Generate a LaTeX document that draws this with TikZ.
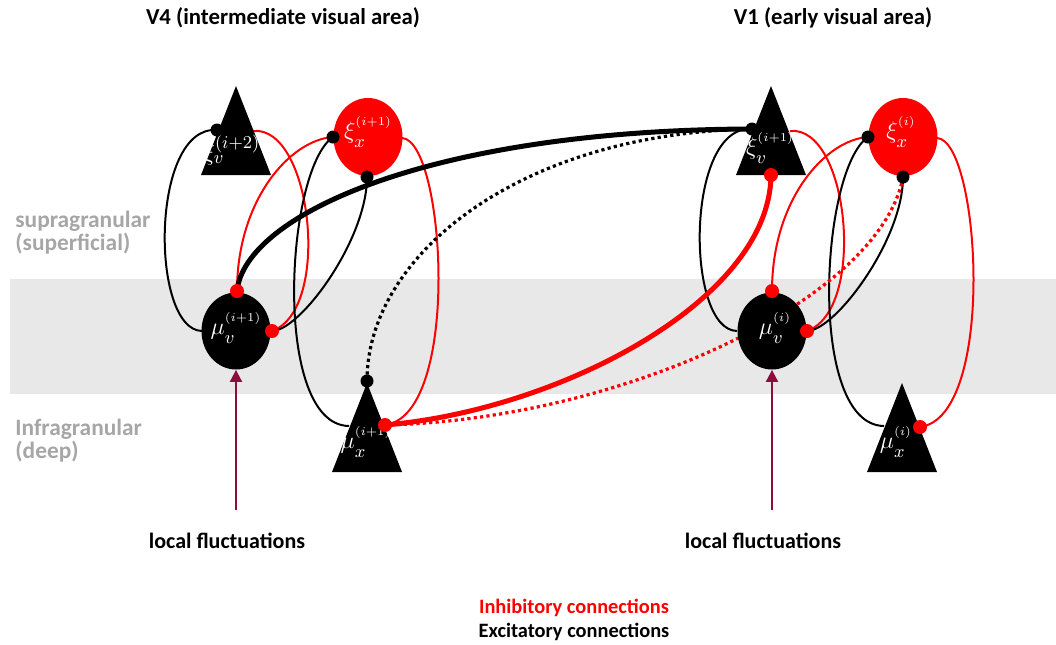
\documentclass[tikz,border=0pt]{standalone}
\usepackage{fontspec}
\setmainfont{Carlito}
\usetikzlibrary{shapes.geometric,arrows.meta}
\pgfdeclarelayer{band}
\pgfdeclarelayer{conn}
\pgfsetlayers{band,conn,main}
\definecolor{bandgray}{RGB}{232,232,232}
\definecolor{labgray}{RGB}{166,166,166}
\definecolor{arrowred}{RGB}{140,14,60}
\newcommand{\lbl}[3]{#1_{\raisebox{-1.5pt}{$\scriptstyle #2$}}^{\raisebox{2.5pt}{$\scriptscriptstyle #3$}}}
\tikzset{
 thinblk/.style={draw=black, line width=1pt},
 thinred/.style={draw=red, line width=1pt},
 thickblk/.style={draw=black, line width=2.5pt},
 thickred/.style={draw=red, line width=2.5pt},
 dotblk/.style={draw=black, line width=1.6pt, dash pattern=on 1.6pt off 1.6pt},
 dotred/.style={draw=red, line width=1.6pt, dash pattern=on 1.6pt off 1.6pt},
 bdot/.style={circle, fill=black, minimum size=6.5pt, inner sep=0pt},
 rdot/.style={circle, fill=red, minimum size=7pt, inner sep=0pt},
 neuron/.style={ellipse, fill=black, minimum width=34.5pt, minimum height=38.5pt, inner sep=0pt},
 errnode/.style={ellipse, fill=red, minimum width=34.5pt, minimum height=39pt, inner sep=0pt},
 mlab/.style={text=white, inner sep=0pt, font=\fontsize{12.5}{13}\selectfont},
 titletxt/.style={font=\bfseries\fontsize{11.4}{13}\selectfont, inner sep=0pt},
 flucttxt/.style={font=\bfseries\fontsize{11}{13}\selectfont, inner sep=0pt},
 legtxt/.style={font=\bfseries\fontsize{10.2}{12}\selectfont, inner sep=0pt},
 sidetxt/.style={font=\bfseries\fontsize{11.7}{11.5}\selectfont, text=labgray, align=left, anchor=west, inner sep=0pt},
 drive/.style={draw=arrowred, line width=1pt, -{Triangle[width=6pt,length=6pt]}},
}
\begin{document}
\begin{tikzpicture}[x=0.5pt,y=-0.5pt]
\useasboundingbox (0,0) rectangle (1056,644);
\begin{pgfonlayer}{band}
\fill[bandgray] (10,279) rectangle (1056,394);
\end{pgfonlayer}

% ---- shapes V4
\fill (201,175) -- (236,86) -- (271,175) -- cycle;
\node[errnode] (xx1) at (368,137) {};
\node[neuron] (mv1) at (236,331) {};
\fill (332,472) -- (367,383) -- (402,472) -- cycle;
% ---- shapes V1
\fill (736,175) -- (771,86) -- (806,175) -- cycle;
\node[errnode] (xx0) at (903,137) {};
\node[neuron] (mv0) at (772,331) {};
\fill (867,472) -- (902,383) -- (937,472) -- cycle;

% ---- labels
\node[mlab] (xv2l) at (232,150) {$\xi_v^{(i+2)}$};
\node[mlab] (xx1l) at (368,132) {$\lbl{\xi}{x}{(i+1)}$};
\node[mlab] (mv1l) at (236,328) {$\lbl{\mu}{v}{(i+1)}$};
\node[mlab] (mx1l) at (366,442) {$\lbl{\mu}{x}{(i+1)}$};
\node[mlab] (xv1l) at (770,148) {$\lbl{\xi}{v}{(i+1)}$};
\node[mlab] (xx0l) at (901,132) {$\lbl{\xi}{x}{(i)}$};
\node[mlab] (mv0l) at (775,328) {$\lbl{\mu}{v}{(i)}$};
\node[mlab] (mx0l) at (896,442) {$\lbl{\mu}{x}{(i)}$};

% ---- dots V4
\node[bdot] (dtv2) at (217,130) {};
\node[bdot] (dxl1) at (333,137) {};
\node[bdot] (dxb1) at (367,177) {};
\node[rdot] (dmt1) at (237,291) {};
\node[rdot] (dmr1) at (272,331) {};
\node[bdot] (dma1) at (367,381) {};
\node[rdot] (dmx1) at (385,425) {};
\coordinate (ctr2) at (253,131);
\coordinate (cxr1) at (402,138);
\coordinate (cml1) at (202,331);
\coordinate (cmxl1) at (349,426);
% ---- dots V1
\node[bdot] (dtv1) at (752,129) {};
\node[rdot] (dtb1) at (771,175) {};
\node[bdot] (dxl0) at (868,137) {};
\node[bdot] (dxb0) at (903,177) {};
\node[rdot] (dmt0) at (772,291) {};
\node[rdot] (dmr0) at (807,331) {};
\node[rdot] (dmx0) at (920,427) {};
\coordinate (ctr1) at (790,131);
\coordinate (cxr0) at (937,138);
\coordinate (cml0) at (737,331);
\coordinate (cmxl0) at (884,426);

\begin{pgfonlayer}{conn}
% V4 local
\draw[thinblk] (dtv2.center) .. controls +(-67,-5) and +(-52,-1) .. (cml1);
\draw[thinred] (ctr2) .. controls +(59,-6) and +(60,-21) .. (dmr1.center);
\draw[thinred] (dxl1.center) .. controls +(-43,3) and +(0,-91) .. (dmt1.center);
\draw[thinblk] (dxl1.center) .. controls +(-48,33) and +(-77,-1) .. (cmxl1);
\draw[thinblk] (dxb1.center) .. controls +(0,63) and +(28,0) .. (dmr1.center);
\draw[thinred] (cxr1) .. controls +(43,2) and +(77,-10) .. (dmx1.center);
% V1 local
\draw[thinblk] (dtv1.center) .. controls +(-67,-5) and +(-52,-1) .. (cml0);
\draw[thinred] (ctr1) .. controls +(59,-6) and +(60,-21) .. (dmr0.center);
\draw[thinred] (dxl0.center) .. controls +(-43,3) and +(0,-91) .. (dmt0.center);
\draw[thinblk] (dxl0.center) .. controls +(-48,33) and +(-77,-1) .. (cmxl0);
\draw[thinblk] (dxb0.center) .. controls +(0,63) and +(28,0) .. (dmr0.center);
\draw[thinred] (cxr0) .. controls +(43,2) and +(77,-10) .. (dmx0.center);
% inter-areal
\draw[dotred] (dxb0.center) .. controls (880,300) and (620,420) .. (dmx1.center);
\draw[dotblk] (dma1.center) .. controls (367,255) and (520,133) .. (dtv1.center);
\draw[thickblk] (dmt1.center) .. controls (245,215) and (430,130) .. (dtv1.center);
\draw[thickred] (dtb1.center) .. controls (770,300) and (560,410) .. (dmx1.center);
\end{pgfonlayer}

% ---- texts
\node[titletxt] (t4) at (283,18) {V4 (intermediate visual area)};
\node[titletxt] (t1) at (833,18) {V1 (early visual area)};
\node[sidetxt] (sup) at (15,233) {supragranular\\(superficial)};
\node[sidetxt] (inf) at (15,441) {Infragranular\\(deep)};
\node[flucttxt] (lf1) at (227,541) {local fluctuations};
\node[flucttxt] (lf0) at (763,541) {local fluctuations};
\node[legtxt, text=red] (inh) at (574,608) {Inhibitory connections};
\node[legtxt] (exc) at (574,632) {Excitatory connections};
\coordinate (a1) at (236,510);
\coordinate (a0) at (772,510);
\draw[drive] (a1) -- (mv1.south);
\draw[drive] (a0) -- (mv0.south);
\end{tikzpicture}
\end{document}
